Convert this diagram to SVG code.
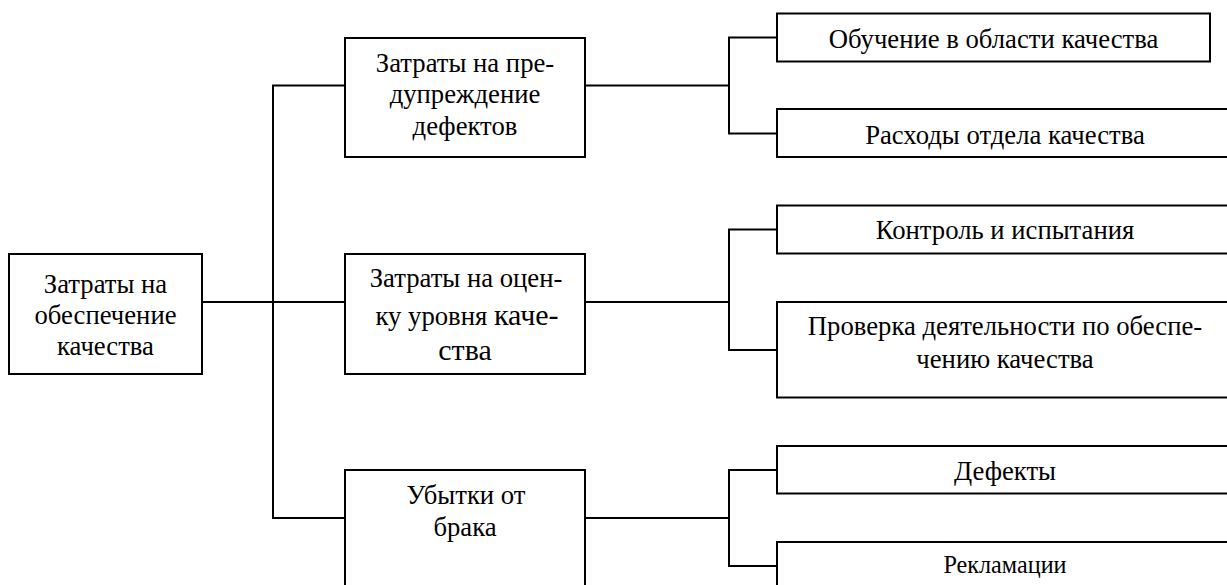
<svg xmlns="http://www.w3.org/2000/svg" width="1227" height="585" viewBox="0 0 1227 585">
<style>
.box{fill:#fff;stroke:#000;stroke-width:2}
.ln{fill:none;stroke:#000;stroke-width:2}
.lb{font-family:"Liberation Serif",serif;font-size:26.7px;fill:#000;text-anchor:middle}
.lb.big{font-size:30px}
.lb.sm{font-size:24.2px}
</style>
<rect width="1227" height="585" fill="#fff"/>
<g id="connectors">
<path class="ln" d="M202 302H345"/>
<path class="ln" d="M345 85.5H273V518H345"/>
<path class="ln" d="M585 85.5H729"/>
<path class="ln" d="M777 37.5H729V133.5H777"/>
<path class="ln" d="M585 302H729"/>
<path class="ln" d="M777 229.5H729V350H777"/>
<path class="ln" d="M585 518H729"/>
<path class="ln" d="M777 470H729V566H777"/>
</g>
<g id="root">
<rect class="box" x="9" y="254" width="193" height="120"/>
<text class="lb" x="105.5" y="293">Затраты на</text>
<text class="lb" x="105.5" y="324">обеспечение</text>
<text class="lb" x="105.5" y="355">качества</text>
</g>
<g id="prevention">
<rect class="box" x="345" y="38" width="240" height="119"/>
<text class="lb" x="465" y="72">Затраты на пре-</text>
<text class="lb" x="465" y="103">дупреждение</text>
<text class="lb" x="465" y="135">дефектов</text>
</g>
<g id="appraisal">
<rect class="box" x="345" y="254" width="240" height="120"/>
<text class="lb" x="466" y="287">Затраты на оцен-</text>
<text class="lb" x="467" y="325">ку уровня <tspan style="font-size:30px">каче-</tspan></text>
<text class="lb big" x="465" y="360">ства</text>
</g>
<g id="failure">
<rect class="box" x="345" y="470" width="240" height="130"/>
<text class="lb" x="466" y="504">Убытки от</text>
<text class="lb" x="465" y="536">брака</text>
</g>
<g id="training">
<rect class="box" x="777" y="13.5" width="433" height="48"/>
<text class="lb" x="993.5" y="48">Обучение в области качества</text>
</g>
<g id="dept">
<rect class="box" x="777" y="109" width="456" height="48"/>
<text class="lb" x="1005" y="144">Расходы отдела качества</text>
</g>
<g id="control">
<rect class="box" x="777" y="205.5" width="456" height="48"/>
<text class="lb" x="1005" y="239">Контроль и испытания</text>
</g>
<g id="audit">
<rect class="box" x="777" y="302" width="456" height="95.5"/>
<text class="lb" x="1005" y="335">Проверка деятельности по обеспе-</text>
<text class="lb" x="1005" y="368">чению качества</text>
</g>
<g id="defects">
<rect class="box" x="777" y="446" width="456" height="47.5"/>
<text class="lb" x="1005" y="480">Дефекты</text>
</g>
<g id="claims">
<rect class="box" x="777" y="542" width="456" height="60"/>
<text class="lb sm" x="1005" y="573">Рекламации</text>
</g>
</svg>
